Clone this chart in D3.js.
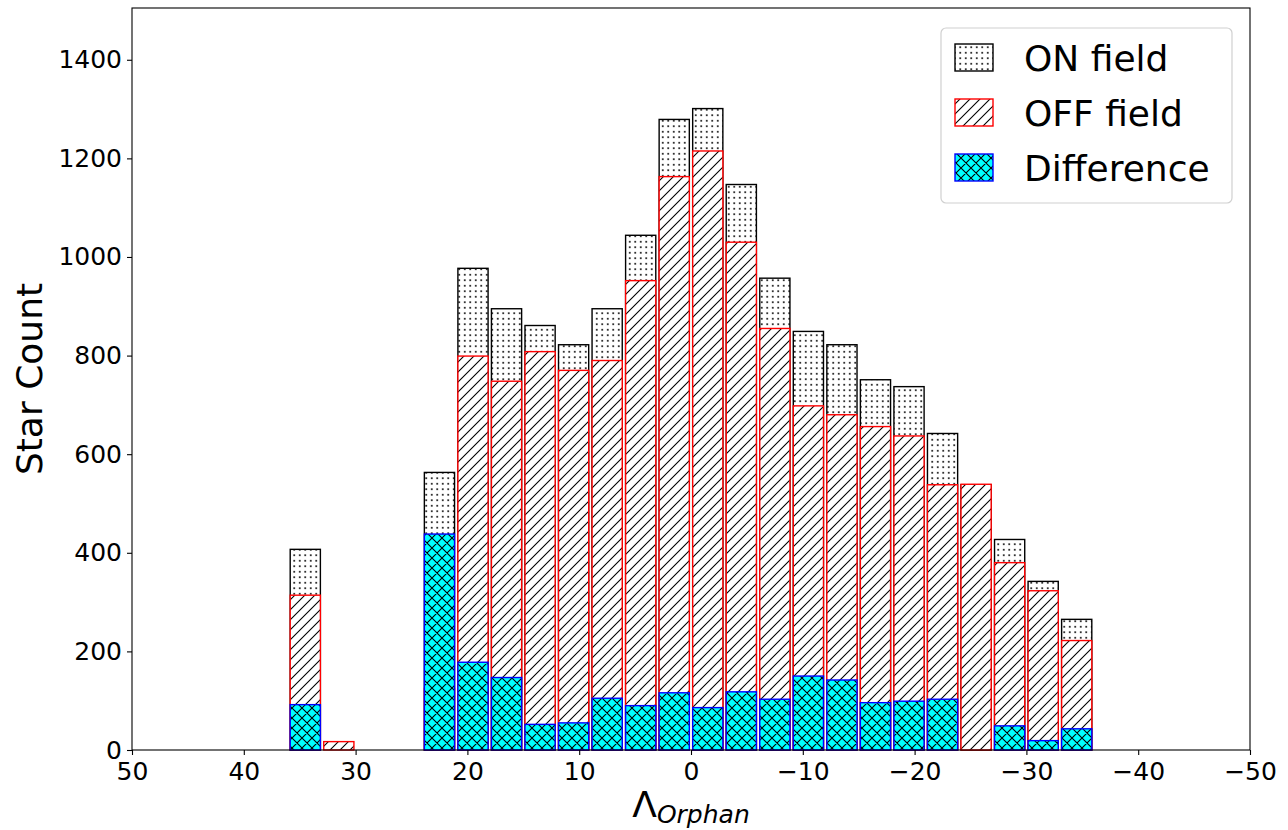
<!DOCTYPE html>
<html>
<head>
<meta charset="utf-8">
<script src="https://cdn.jsdelivr.net/npm/d3@7"></script>
<style>
  body { margin: 0; background: #fff; }
  text { font-family: "DejaVu Sans", sans-serif; fill: #000; }
</style>
</head>
<body>
<div id="root"></div>
<script>
// bin centres along Lambda_Orphan (bins of width 3, from 36 down to -36)
const binCenters = [34.5, 31.5, 28.5, 25.5, 22.5, 19.5, 16.5, 13.5, 10.5, 7.5, 4.5, 1.5,
                    -1.5, -4.5, -7.5, -10.5, -13.5, -16.5, -19.5, -22.5, -25.5, -28.5, -31.5, -34.5];
const binWidth = 3;

const onField  = [407, 0, 0, 0, 563, 977, 895, 861, 822, 895, 1044, 1279,
                  1301, 1147, 957, 849, 822, 751, 737, 642, 538, 427, 342, 265];
const offField = [314, 17, 0, 0, 125, 799, 748, 808, 770, 790, 952, 1163,
                  1215, 1030, 855, 698, 680, 656, 637, 538, 539, 380, 323, 222];
const difference = [92, 0, 0, 0, 438, 178, 147, 52, 55, 105, 90, 116,
                    86, 118, 103, 150, 142, 96, 99, 103, 0, 49, 19, 43];

const xTicks = [50, 40, 30, 20, 10, 0, -10, -20, -30, -40, -50];
const yTicks = [0, 200, 400, 600, 800, 1000, 1200, 1400];
const legendLabels = ["ON field", "OFF field", "Difference"];

const W = 1288, H = 830;
const margin = {top: 8, right: 38, bottom: 80, left: 132};
const width = W - margin.left - margin.right,
      height = 750 - margin.top;

const svg = d3.select("#root").append("svg")
    .attr("width", W)
    .attr("height", H);

// hatch patterns
const defs = svg.append("defs");
const dots = defs.append("pattern").attr("id", "dots")
    .attr("patternUnits", "userSpaceOnUse").attr("width", 5.5).attr("height", 5.5);
dots.append("rect").attr("width", 5.5).attr("height", 5.5).attr("fill", "#fff");
dots.append("circle").attr("cx", 2.75).attr("cy", 2.75).attr("r", 1).attr("fill", "#000");

const slash = defs.append("pattern").attr("id", "slash")
    .attr("patternUnits", "userSpaceOnUse").attr("width", 10).attr("height", 10);
slash.append("rect").attr("width", 10).attr("height", 10).attr("fill", "#fff");
slash.append("path").attr("d", "M0,10L10,0M-2,2L2,-2M8,12L12,8")
    .attr("stroke", "#000").attr("stroke-width", 1.1);

const cross = defs.append("pattern").attr("id", "cross")
    .attr("patternUnits", "userSpaceOnUse").attr("width", 10).attr("height", 10);
cross.append("rect").attr("width", 10).attr("height", 10).attr("fill", "#00ffff");
cross.append("path").attr("d", "M0,10L10,0M-2,2L2,-2M8,12L12,8M0,0L10,10M-2,8L2,12M8,-2L12,2")
    .attr("stroke", "#000").attr("stroke-width", 1.1);

const g = svg.append("g")
    .attr("transform", "translate(" + margin.left + "," + margin.top + ")");

const x = d3.scaleLinear().domain([50, -50]).range([0, width]);
const y = d3.scaleLinear().domain([0, 1505]).range([height, 0]);

const barW = Math.abs(x(0) - x(binWidth * 0.9));

function drawBars(values, fill, stroke) {
    g.append("g").selectAll("rect")
        .data(values)
        .enter()
        .append("rect")
        .attr("x", (d, i) => x(binCenters[i]) - barW / 2)
        .attr("width", barW)
        .attr("y", d => y(d))
        .attr("height", d => y(0) - y(d))
        .attr("fill", fill)
        .attr("stroke", stroke)
        .attr("stroke-width", 1.4);
}
drawBars(onField, "url(#dots)", "#000");
drawBars(offField, "url(#slash)", "#ff0000");
drawBars(difference, "url(#cross)", "#0000ff");

// axes
const fmt = d => (d < 0 ? "\u2212" + Math.abs(d) : "" + d);
const xAxis = g.append("g")
    .attr("transform", "translate(0," + height + ")")
    .call(d3.axisBottom(x).tickValues(xTicks).tickFormat(fmt).tickSize(5).tickPadding(5));
const yAxis = g.append("g")
    .call(d3.axisLeft(y).tickValues(yTicks).tickFormat(d3.format("d")).tickSize(5).tickPadding(5));
[xAxis, yAxis].forEach(a => {
    a.select(".domain").remove();
    a.selectAll(".tick line").attr("stroke", "#000").attr("stroke-width", 1.1);
    a.selectAll("text").style("font-size", "25px").style("font-family", "DejaVu Sans");
});
xAxis.selectAll("text").attr("dy", "0.78em");

// frame
g.append("rect")
    .attr("width", width).attr("height", height)
    .attr("fill", "none").attr("stroke", "#000").attr("stroke-width", 1.1);

// labels
svg.append("text")
    .attr("transform", "translate(42," + (margin.top + height / 2) + ") rotate(-90)")
    .attr("text-anchor", "middle")
    .style("font-size", "36px")
    .text("Star Count");

const xl = svg.append("text")
    .attr("x", margin.left + width / 2)
    .attr("y", 817)
    .attr("text-anchor", "middle")
    .style("font-size", "36px");
xl.append("tspan").text("\u039b");
xl.append("tspan").attr("dy", 6).style("font-size", "25px").style("font-style", "italic").text("Orphan");

// legend
const leg = svg.append("g").attr("transform", "translate(941,28)");
leg.append("rect")
    .attr("width", 291).attr("height", 175).attr("rx", 5)
    .attr("fill", "#fff").attr("fill-opacity", 0.8)
    .attr("stroke", "#d0d0d0").attr("stroke-width", 1.2);
const legFill = ["url(#dots)", "url(#slash)", "url(#cross)"];
const legStroke = ["#000", "#ff0000", "#0000ff"];
legendLabels.forEach((lab, i) => {
    leg.append("rect")
        .attr("x", 14).attr("y", 16 + i * 55)
        .attr("width", 38).attr("height", 27)
        .attr("fill", legFill[i]).attr("stroke", legStroke[i]).attr("stroke-width", 1.4);
    leg.append("text")
        .attr("x", 83).attr("y", 43 + i * 55)
        .style("font-size", "36px")
        .text(lab);
});
</script>
</body>
</html>
